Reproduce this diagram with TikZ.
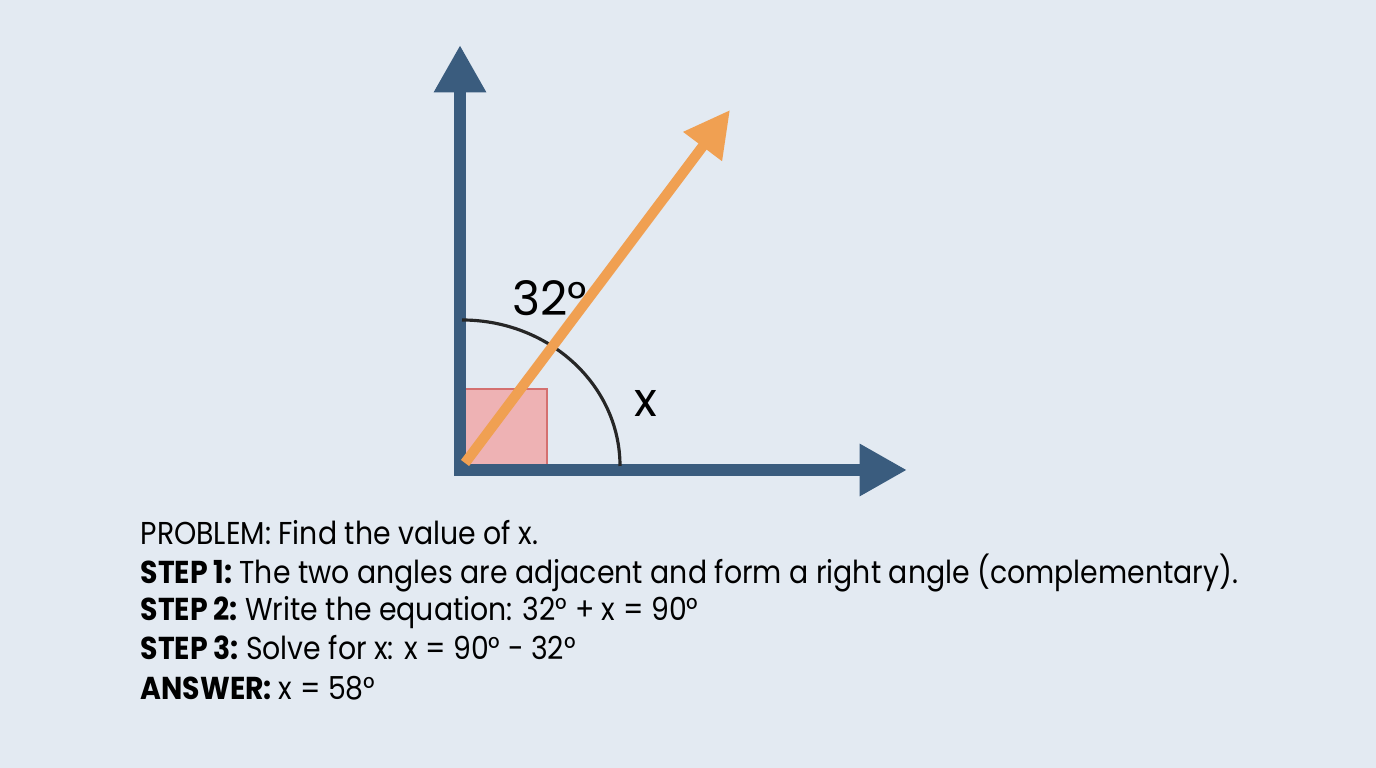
\documentclass[tikz,border=0pt]{standalone}
\usepackage{fontspec}
\setmainfont{Poppins}
\usetikzlibrary{arrows.meta}
\definecolor{bgblue}{RGB}{227,234,242}
\definecolor{axisblue}{RGB}{58,92,126}
\definecolor{rayorange}{RGB}{240,160,82}
\definecolor{sqfill}{RGB}{238,178,180}
\definecolor{sqdraw}{RGB}{212,112,112}
\newcommand{\stepgap}{\hspace{0.25em}}
\tikzset{
  axis/.style={draw=axisblue, line width=3.4pt, -{Triangle[length=13.5pt,width=14pt]}},
  ray/.style={draw=rayorange, line width=2.9pt, -{Triangle[length=13pt,width=13pt]}},
  steptxt/.style={anchor=base west, inner sep=0pt, font=\fontsize{9}{11}\selectfont, xscale=0.895, transform shape}
}
\begin{document}
\begin{tikzpicture}[x=0.01cm, y=-0.01cm]
    % background
    \fill[bgblue] (0,0) rectangle (1376,768);
    \useasboundingbox (0,0) rectangle (1376,768);
    % right angle marker
    \filldraw[fill=sqfill, draw=sqdraw, line width=0.8pt] (462,389) rectangle (547,467);
    % axes and ray
    \coordinate (O) at (460,470);
    \coordinate (ytip) at (460,45);
    \coordinate (xtip) at (907,470);
    \coordinate (rtip) at (730,110);
    \draw[axis, line cap=rect] (O) -- (ytip);
    \draw[axis] (O) -- (xtip);
    \draw[black!85, line width=0.9pt] (462,320) arc[start angle=90, end angle=0, x radius=158, y radius=-146];
    \draw[ray] (465,463) -- (rtip);
    % angle labels
    \node[font=\fontsize{13.5}{16}\selectfont] (ang) at (550,298) {32°};
    \node[font=\fontsize{13.5}{16}\selectfont] (xlab) at (646,404) {x};
    % solution text
    \node[steptxt] (prob) at (140,545) {PROBLEM: Find the value of x.};
    \node[steptxt] (s1) at (140,584) {\textbf{STEP 1:}\stepgap The two angles are adjacent and form a right angle (complementary).};
    \node[steptxt] (s2) at (140,621) {\textbf{STEP 2:}\stepgap Write the equation: 32° + x = 90°};
    \node[steptxt] (s3) at (140,660) {\textbf{STEP 3:}\stepgap Solve for x: x = 90° - 32°};
    \node[steptxt] (ans) at (140,700) {\textbf{ANSWER:}\stepgap x = 58°};
\end{tikzpicture}
\end{document}
